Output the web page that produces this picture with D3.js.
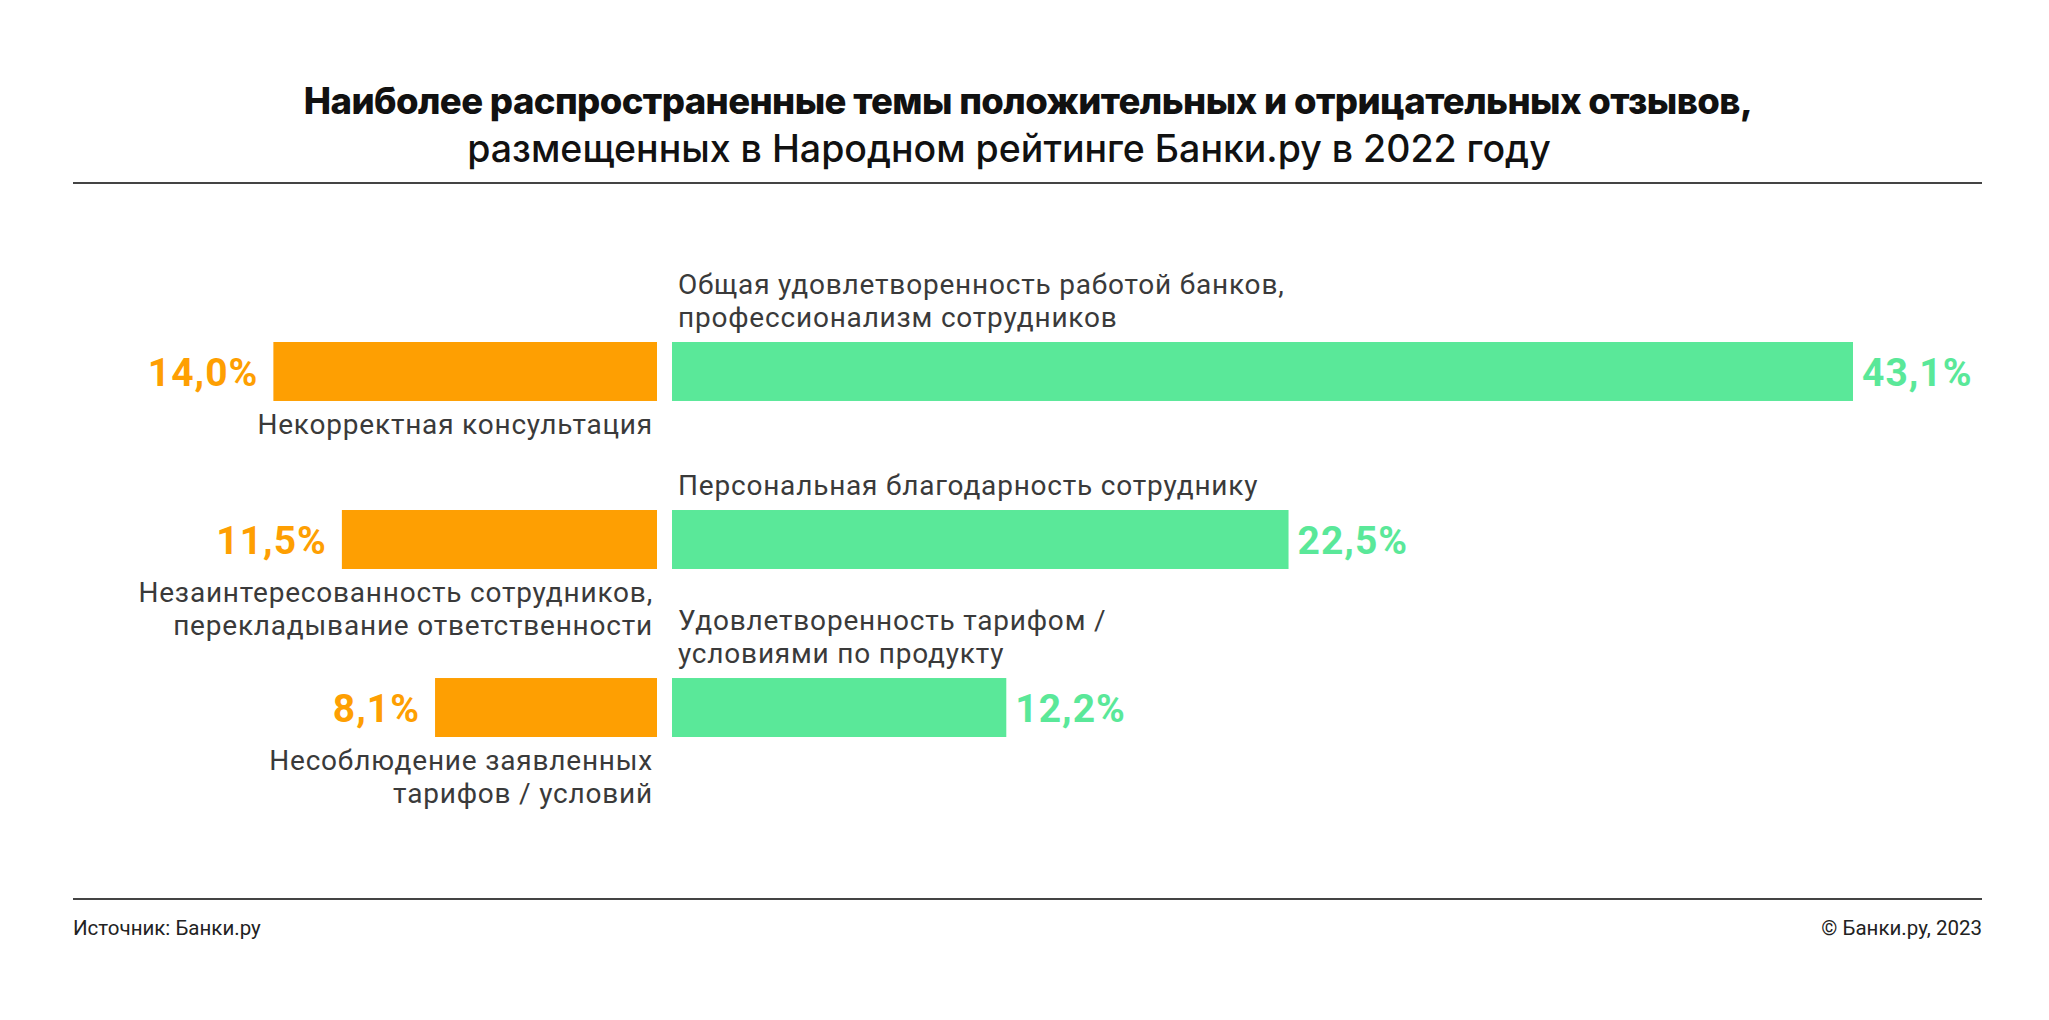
<!DOCTYPE html>
<html>
<head>
<meta charset="utf-8">
<script src="https://cdn.jsdelivr.net/npm/d3@7"></script>
<style>
  body { margin: 0; background: #fff; }
  svg { display: block; }
</style>
</head>
<body>
<div id="chart"></div>
<script>
// data
var negLabels = [
  ["Некорректная консультация"],
  ["Незаинтересованность сотрудников,", "перекладывание ответственности"],
  ["Несоблюдение заявленных", "тарифов / условий"]
];
var negValues = [14.0, 11.5, 8.1];

var posLabels = [
  ["Общая удовлетворенность работой банков,", "профессионализм сотрудников"],
  ["Персональная благодарность сотруднику"],
  ["Удовлетворенность тарифом /", "условиями по продукту"]
];
var posValues = [43.1, 22.5, 12.2];

var titleLines = [
  "Наиболее распространенные темы положительных и отрицательных отзывов,",
  "размещенных в Народном рейтинге Банки.ру в 2022 году"
];
var sourceText = "Источник: Банки.ру";
var copyText = "© Банки.ру, 2023";

var W = 2049, H = 1020;
var orange = "#fe9f02", green = "#5ae899", textCol = "#3a3a3a";
var centerL = 657, centerR = 672;

var svg = d3.select("#chart").append("svg")
  .attr("width", W).attr("height", H);
svg.append("rect").attr("width", W).attr("height", H).attr("fill", "#fff");

// title
svg.append("text")
  .attr("x", 1028).attr("y", 114)
  .attr("text-anchor", "middle")
  .attr("font-family", "Inter, sans-serif")
  .attr("font-weight", 800)
  .attr("font-size", 36.5)
  .attr("letter-spacing", -0.6)
  .attr("fill", "#111")
  .text(titleLines[0]);
svg.append("text")
  .attr("x", 1009).attr("y", 162)
  .attr("text-anchor", "middle")
  .attr("font-family", "Inter, sans-serif")
  .attr("font-weight", 500)
  .attr("font-size", 37.5)
  .attr("fill", "#111")
  .text(titleLines[1]);

// rules
svg.append("line").attr("x1", 73).attr("x2", 1982).attr("y1", 183).attr("y2", 183)
  .attr("stroke", "#444").attr("stroke-width", 2);
svg.append("line").attr("x1", 73).attr("x2", 1982).attr("y1", 899).attr("y2", 899)
  .attr("stroke", "#444").attr("stroke-width", 2);

// footer
svg.append("text").attr("x", 73).attr("y", 935)
  .attr("font-family", "Roboto, sans-serif").attr("font-size", 20.5).attr("fill", "#222")
  .text(sourceText);
svg.append("text").attr("x", 1982).attr("y", 935).attr("text-anchor", "end")
  .attr("font-family", "Roboto, sans-serif").attr("font-size", 20.5).attr("fill", "#222")
  .text(copyText);

// scales
var rows = d3.range(negValues.length);
var y = d3.scaleBand().domain(rows).range([342, 737]).paddingInner(0.649).paddingOuter(0);
var x = d3.scaleLinear().domain([0, 43.1]).range([0, 1181]);
var fmt = function(v) { return d3.format(".1f")(v).replace(".", ",") + "%"; };

// negative bars
svg.selectAll(".neg").data(rows).enter().append("rect")
  .attr("class", "neg")
  .attr("x", function(i) { return centerL - x(negValues[i]); })
  .attr("y", function(i) { return y(i); })
  .attr("width", function(i) { return x(negValues[i]); })
  .attr("height", y.bandwidth())
  .attr("fill", orange);

// positive bars
svg.selectAll(".pos").data(rows).enter().append("rect")
  .attr("class", "pos")
  .attr("x", centerR)
  .attr("y", function(i) { return y(i); })
  .attr("width", function(i) { return x(posValues[i]); })
  .attr("height", y.bandwidth())
  .attr("fill", green);

// value labels
svg.selectAll(".negval").data(rows).enter().append("text")
  .attr("x", function(i) { return centerL - x(negValues[i]) - 15; })
  .attr("y", function(i) { return y(i) + y.bandwidth() / 2; })
  .attr("dy", "0.36em")
  .attr("text-anchor", "end")
  .attr("font-family", "Roboto, sans-serif")
  .attr("font-weight", 700)
  .attr("font-size", 39)
  .attr("letter-spacing", 1)
  .attr("fill", orange)
  .text(function(i) { return fmt(negValues[i]); });

svg.selectAll(".posval").data(rows).enter().append("text")
  .attr("x", function(i) { return centerR + x(posValues[i]) + 9; })
  .attr("y", function(i) { return y(i) + y.bandwidth() / 2; })
  .attr("dy", "0.36em")
  .attr("font-family", "Roboto, sans-serif")
  .attr("font-weight", 700)
  .attr("font-size", 39)
  .attr("letter-spacing", 1)
  .attr("fill", green)
  .text(function(i) { return fmt(posValues[i]); });

// category labels: negatives below bars, positives above
var lineH = 33;
rows.forEach(function(i) {
  var t = svg.append("text")
    .attr("text-anchor", "end")
    .attr("font-family", "Roboto, sans-serif")
    .attr("font-size", 28)
    .attr("letter-spacing", 0.8)
    .attr("fill", textCol);
  negLabels[i].forEach(function(s, k) {
    t.append("tspan").attr("x", centerL - 4)
      .attr("y", y(i) + y.bandwidth() + 33 + k * lineH).text(s);
  });

  var n = posLabels[i].length;
  var p = svg.append("text")
    .attr("font-family", "Roboto, sans-serif")
    .attr("font-size", 28)
    .attr("letter-spacing", 0.8)
    .attr("fill", textCol);
  posLabels[i].forEach(function(s, k) {
    p.append("tspan").attr("x", centerR + 6)
      .attr("y", y(i) - 15 - (n - 1 - k) * lineH).text(s);
  });
});
</script>
</body>
</html>
